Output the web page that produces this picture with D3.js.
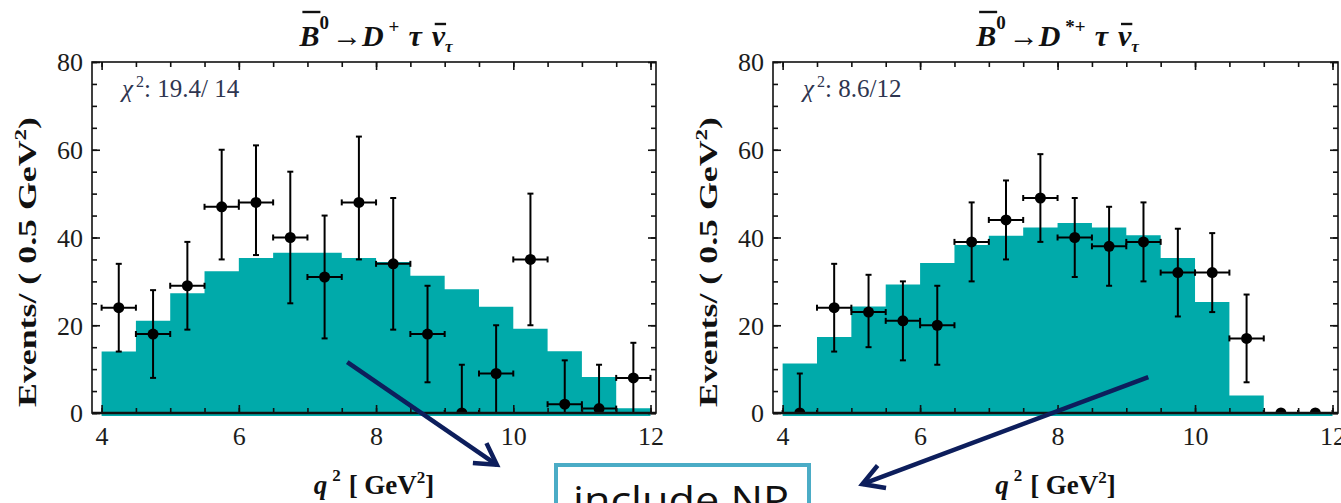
<!DOCTYPE html>
<html>
<head>
<meta charset="utf-8">
<script src="https://cdn.jsdelivr.net/npm/d3@7"></script>
<style>
  body { margin: 0; background: #fff; }
  svg { display: block; }
  .tick-label { font-family: "Liberation Serif", "Times New Roman", serif; font-size: 26px; fill: #1c1c1c; }
  .axis-title { font-family: "Liberation Serif", "Times New Roman", serif; font-weight: bold; fill: #111; }
</style>
</head>
<body>
<div id="chart"></div>
<script>
// bin centres (q^2, GeV^2), 0.5 GeV^2 wide bins
var binCenters = [4.25, 4.75, 5.25, 5.75, 6.25, 6.75, 7.25, 7.75, 8.25, 8.75, 9.25, 9.75, 10.25, 10.75, 11.25, 11.75];

// B -> D tau nu
var dFit   = [14, 21, 27.3, 32.3, 35.3, 36.5, 36.5, 35.3, 34.4, 31.3, 28.2, 24.2, 19.2, 14.1, 8.2, 1.1];
var dData  = [24, 18, 29, 47, 48, 40, 31, 48, 34, 18, 0, 9, 35, 2, 1, 8];
var dLow   = [14, 8, 19, 35, 36, 25, 17, 35, 19, 7, 0, 0, 20, 0, 0, 0];
var dHigh  = [34, 28, 39, 60, 61, 55, 45, 63, 49, 29, 11, 20, 50, 12, 11, 16];

// B -> D* tau nu
var dsFit  = [11.3, 17.3, 24.3, 29.3, 34.2, 38.3, 40.4, 42.3, 43.3, 42.3, 40.5, 35.3, 25.3, 4, 0, 0];
var dsData = [0, 24, 23, 21, 20, 39, 44, 49, 40, 38, 39, 32, 32, 17, 0, 0];
var dsLow  = [0, 14, 15, 12, 11, 30, 35, 39, 31, 29, 30, 22, 23, 7, 0, 0];
var dsHigh = [9, 34, 31.5, 30, 29, 48, 53, 59, 49, 47, 48, 42, 41, 27, 0, 0];

var xTicks = [4, 6, 8, 10, 12];
var yTicks = [0, 20, 40, 60, 80];
var chi2Labels = ["19.4/ 14", "8.6/12"];

// arrows in data coordinates of the panel they start in
var arrows = [
    {panel: 0, from: [7.58, 11.6], to: [9.76, -11.8]},
    {panel: 1, from: [9.32, 8.2], to: [5.16, -16.2]}
];

var width = 1341, height = 503;
var binWidth = 0.5;
var teal = "#00aaaa";
var navy = "#0d1e5c";

var svg = d3.select("#chart").append("svg")
    .attr("width", width)
    .attr("height", height);

// no spaces in the parts (they collapse); gaps are done with dx
function titleParts(dSup) {
    return [
        {t: "B", over: 1, it: true},
        {t: "0", dy: -17, size: 19},
        {t: "\u2192", dy: 17, dx: 3},
        {t: "D", it: true},
        {t: dSup, dy: -13, size: 19, dx: 5},
        {t: "\u03c4", dy: 13, dx: 9, it: true},
        {t: "\u03bd", over: 2, dx: 10, it: true},
        {t: "\u03c4", dy: 6, size: 17, it: true}
    ];
}

var panels = [
    {x0: 92, x1: 656, fit: dFit, data: dData, low: dLow, high: dHigh, chi: chi2Labels[0], title: titleParts("+")},
    {x0: 773, x1: 1338, fit: dsFit, data: dsData, low: dsLow, high: dsHigh, chi: chi2Labels[1], title: titleParts("*+")}
];

var yTop = 62, yBottom = 413;
var yScale = d3.scaleLinear().domain([0, 80]).range([yBottom, yTop]);

panels.forEach(function(p, pi) {
    var xScale = d3.scaleLinear().domain([3.86, 12.08]).range([p.x0, p.x1]);
    p.xScale = xScale;
    var cx = (p.x0 + p.x1) / 2;

    var g = svg.append("g").attr("class", "panel panel-" + pi);

    var clipId = "clip" + pi;
    g.append("clipPath").attr("id", clipId)
        .append("rect")
        .attr("x", p.x0).attr("y", yTop)
        .attr("width", p.x1 - p.x0).attr("height", yBottom - yTop);

    // histogram (fit) as a step area
    var steps = [];
    binCenters.forEach(function(c, i) {
        steps.push([c - binWidth / 2, p.fit[i]]);
        steps.push([c + binWidth / 2, p.fit[i]]);
    });
    var area = d3.area()
        .x(function(d) { return xScale(d[0]); })
        .y0(yScale(0))
        .y1(function(d) { return yScale(d[1]); });

    g.append("path")
        .datum(steps)
        .attr("d", area)
        .attr("fill", teal);

    // teal strip under the baseline
    g.append("rect")
        .attr("x", xScale(4))
        .attr("y", yScale(0))
        .attr("width", xScale(12) - xScale(4))
        .attr("height", 3)
        .attr("fill", teal);

    // data points with error bars
    var pts = g.append("g").attr("clip-path", "url(#" + clipId + ")");
    var cap = 3;
    binCenters.forEach(function(c, i) {
        var px = xScale(c), py = yScale(p.data[i]);
        var xl = xScale(c - binWidth / 2), xr = xScale(c + binWidth / 2);
        var yl = yScale(p.low[i]), yh = yScale(p.high[i]);
        var e = pts.append("g").attr("stroke", "#000").attr("stroke-width", 2);
        if (p.high[i] > p.data[i] || p.low[i] < p.data[i]) {
            e.append("line").attr("x1", px).attr("x2", px).attr("y1", yl).attr("y2", yh);
            e.append("line").attr("x1", px - cap).attr("x2", px + cap).attr("y1", yh).attr("y2", yh);
            e.append("line").attr("x1", px - cap).attr("x2", px + cap).attr("y1", yl).attr("y2", yl);
        }
        e.append("line").attr("x1", xl).attr("x2", xr).attr("y1", py).attr("y2", py);
        e.append("line").attr("x1", xl).attr("x2", xl).attr("y1", py - cap).attr("y2", py + cap);
        e.append("line").attr("x1", xr).attr("x2", xr).attr("y1", py - cap).attr("y2", py + cap);
        pts.append("circle").attr("cx", px).attr("cy", py).attr("r", 5.5).attr("fill", "#000");
    });

    // axes: ticks pointing inward on all four sides
    var minorX = d3.range(8, 25).map(function(k) { return k / 2; });
    var minorY = d3.range(0, 17).map(function(k) { return k * 5; });

    function tickAxis(axis, major, minor, transform, withLabels) {
        var ga = g.append("g").attr("transform", transform);
        ga.call(axis.tickValues(minor).tickSize(-5).tickFormat(""));
        ga.select(".domain").remove();
        var gb = g.append("g").attr("transform", transform);
        gb.call(axis.tickValues(major).tickSize(-8).tickPadding(withLabels ? 18 : 0)
            .tickFormat(withLabels ? d3.format("d") : ""));
        gb.select(".domain").remove();
        g.selectAll(".tick line").attr("stroke", "#111").attr("stroke-width", 1.6);
        return gb;
    }

    var bx = tickAxis(d3.axisBottom(xScale), xTicks, minorX, "translate(0," + yBottom + ")", true);
    bx.selectAll("text").attr("class", "tick-label").attr("dy", null).attr("y", 32);
    tickAxis(d3.axisTop(xScale), xTicks, minorX, "translate(0," + yTop + ")", false);
    var ly = tickAxis(d3.axisLeft(yScale), yTicks, minorY, "translate(" + p.x0 + ",0)", true);
    ly.selectAll("text").attr("class", "tick-label").attr("x", -9).attr("dy", "0.34em");
    tickAxis(d3.axisRight(yScale), yTicks, minorY, "translate(" + p.x1 + ",0)", false);
    g.selectAll(".tick text").attr("font-size", null).attr("font-family", null);

    // frame
    g.append("rect")
        .attr("x", p.x0).attr("y", yTop)
        .attr("width", p.x1 - p.x0).attr("height", yBottom - yTop)
        .attr("fill", "none").attr("stroke", "#111").attr("stroke-width", 1.6);
    g.append("line")
        .attr("x1", p.x0).attr("x2", p.x1)
        .attr("y1", yBottom).attr("y2", yBottom)
        .attr("stroke", "#111").attr("stroke-width", 2.4);

    // chi2 label
    var chi = g.append("text")
        .attr("x", p.x0 + 30).attr("y", 97)
        .attr("font-family", "Liberation Serif, serif")
        .attr("font-size", 25)
        .attr("fill", "#2e3550");
    chi.append("tspan").attr("font-style", "italic").text("\u03c7");
    chi.append("tspan").attr("dy", -10).attr("dx", 3).attr("font-size", 16).text("2");
    chi.append("tspan").attr("dy", 10).text(": " + p.chi);

    // title with overlines
    var title = g.append("text")
        .attr("x", cx + 2).attr("y", 46)
        .attr("text-anchor", "middle")
        .attr("font-family", "Liberation Serif, serif")
        .attr("font-weight", "bold")
        .attr("font-size", 30)
        .attr("fill", "#111");
    var idx = 0, overs = [];
    p.title.forEach(function(part) {
        var ts = title.append("tspan").text(part.t);
        if (part.dy) ts.attr("dy", part.dy);
        if (part.dx) ts.attr("dx", part.dx);
        if (part.size) ts.attr("font-size", part.size);
        if (part.it) ts.attr("font-style", "italic");
        if (part.over) overs.push({ci: idx, kind: part.over});
        idx += part.t.length;
    });
    var nChars = title.node().getNumberOfChars();
    overs.forEach(function(o) {
        if (o.ci >= nChars) return;
        var ext = title.node().getExtentOfChar(o.ci);
        var oy = o.kind === 1 ? 12 : 24;
        g.append("line")
            .attr("x1", ext.x + 3).attr("x2", ext.x + ext.width + 1)
            .attr("y1", oy).attr("y2", oy)
            .attr("stroke", "#111").attr("stroke-width", 2.4);
    });

    // x axis title
    var xt = g.append("text")
        .attr("class", "axis-title")
        .attr("x", cx).attr("y", 494)
        .attr("text-anchor", "middle")
        .attr("font-size", 27);
    xt.append("tspan").attr("font-style", "italic").text("q");
    xt.append("tspan").attr("dy", -13).attr("dx", 5).attr("font-size", 17).text("2");
    xt.append("tspan").attr("dy", 13).attr("dx", 8).text("[ GeV");
    xt.append("tspan").attr("dy", -11).attr("font-size", 17).text("2");
    xt.append("tspan").attr("dy", 11).text("]");

    // y axis title
    var yt = g.append("text")
        .attr("class", "axis-title")
        .attr("transform", "translate(" + (p.x0 - 56) + ",262) rotate(-90)")
        .attr("text-anchor", "middle")
        .attr("font-size", 25)
        .attr("textLength", 290)
        .attr("lengthAdjust", "spacingAndGlyphs");
    yt.append("tspan").text("Events/ ( 0.5 GeV");
    yt.append("tspan").attr("dy", -10).attr("font-size", 16).text("2");
    yt.append("tspan").attr("dy", 10).text(")");
});

// "include NP" box
svg.append("rect")
    .attr("x", 556).attr("y", 465)
    .attr("width", 253).attr("height", 70)
    .attr("fill", "#fff")
    .attr("stroke", "#4bacc6")
    .attr("stroke-width", 4);
svg.append("text")
    .attr("x", 573).attr("y", 514)
    .attr("font-family", "Open Sans, sans-serif")
    .attr("font-size", 38)
    .attr("textLength", 216)
    .attr("lengthAdjust", "spacingAndGlyphs")
    .attr("fill", "#111")
    .text("include NP");

// arrows
arrows.forEach(function(a) {
    var xs = panels[a.panel].xScale;
    var x1 = xs(a.from[0]), y1 = yScale(a.from[1]);
    var x2 = xs(a.to[0]), y2 = yScale(a.to[1]);
    var ang = Math.atan2(y2 - y1, x2 - x1);
    var hl = 24, spread = Math.PI / 6;
    var ga = svg.append("g")
        .attr("stroke", navy).attr("stroke-width", 4.5)
        .attr("fill", "none").attr("stroke-linecap", "butt").attr("stroke-linejoin", "miter");
    ga.append("line").attr("x1", x1).attr("y1", y1).attr("x2", x2).attr("y2", y2);
    ga.append("path")
        .attr("d", d3.line()([
            [x2 - hl * Math.cos(ang - spread), y2 - hl * Math.sin(ang - spread)],
            [x2, y2],
            [x2 - hl * Math.cos(ang + spread), y2 - hl * Math.sin(ang + spread)]
        ]));
});
</script>
</body>
</html>
